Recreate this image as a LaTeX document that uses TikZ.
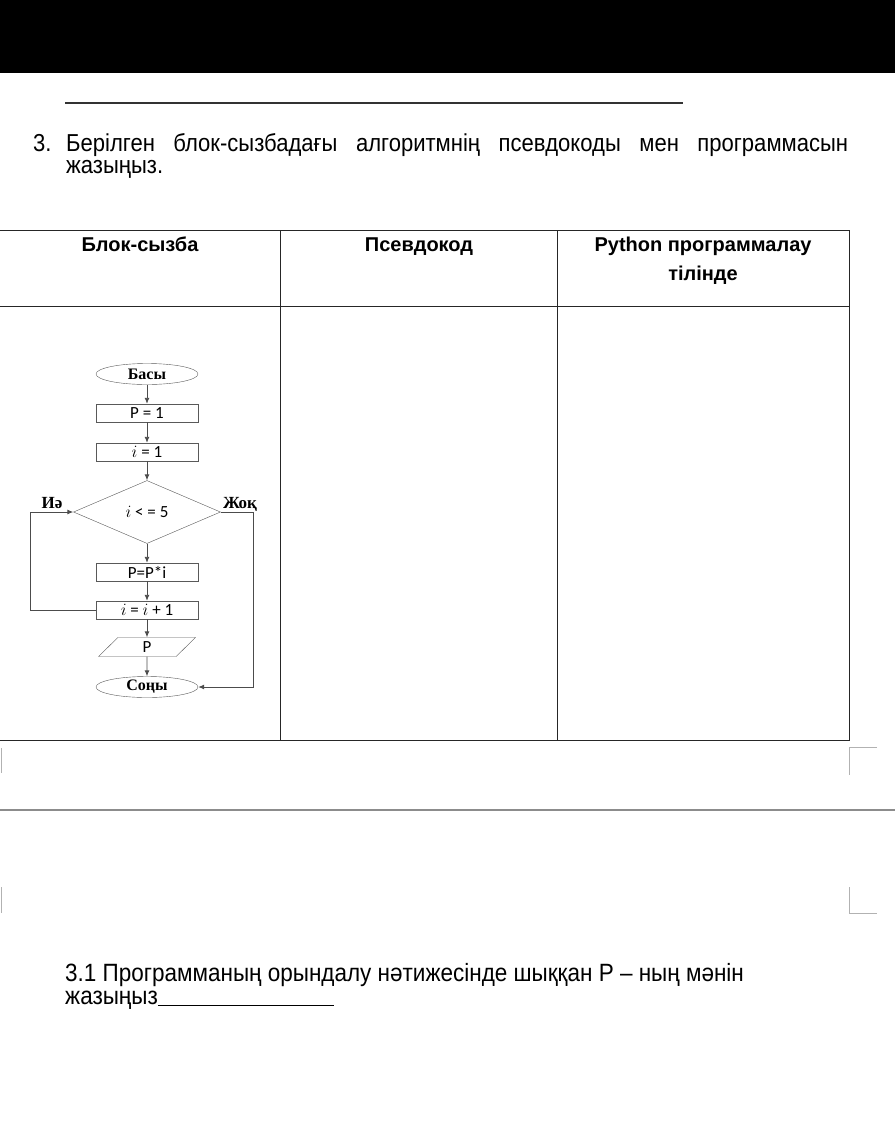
\documentclass[tikz,border=0pt]{standalone}
\usepackage{fontspec}
\setmainfont{Liberation Sans}
\newfontfamily\bodyfont[FakeStretch=0.9]{Liberation Sans}
\newfontfamily\serifkz{Liberation Serif}
\newfontfamily\blockfont{Carlito}
\usetikzlibrary{positioning,arrows.meta,shapes.geometric}

\begin{document}
\begin{tikzpicture}[x=1pt,y=-1pt,
  term/.style={ellipse,draw=black!65,fill=white,minimum width=102,minimum height=21,inner sep=0,
    font=\serifkz\bfseries\fontsize{16}{16}\selectfont},
  proc/.style={rectangle,draw=black!65,fill=white,minimum width=102,minimum height=18,inner sep=0,
    font=\blockfont\fontsize{17}{17}\selectfont},
  cond/.style={diamond,draw=black!65,fill=white,minimum width=147,minimum height=63,inner sep=0,
    font=\blockfont\fontsize{17}{17}\selectfont},
  io/.style={trapezium,trapezium left angle=75,trapezium right angle=105,trapezium stretches=true,
    draw=black!65,fill=white,minimum width=97,minimum height=19,inner sep=0,
    font=\blockfont\fontsize{17}{17}\selectfont},
  flow/.style={draw=black!70,line width=0.9pt,-{Latex[length=6pt,width=5pt]}},
  lbl/.style={anchor=base,font=\serifkz\bfseries\fontsize{17}{17}\selectfont},
  grid/.style={draw=black!85,line width=0.8pt},
  edgemark/.style={draw=black!30,line width=1pt},
  head/.style={anchor=base,font=\bfseries\fontsize{20}{20}\selectfont},
  txt/.style={anchor=base west,inner sep=0,font=\bodyfont\fontsize{24.5}{24.5}\selectfont}
]
\useasboundingbox (0,0) rectangle (895,1127);

% top of the page
\fill[black] (0,0) rectangle (895,73);
\draw[black!80,line width=1.3pt] (65,103) -- (683,103);

% task text
\node[txt] (num) at (33,151.5) {3.};
\node[txt] (line1) at (66,151.5) {\makebox[782pt][s]{Берілген блок-сызбадағы алгоритмнің псевдокоды мен программасын}};
\node[txt] (line2) at (66,173.5) {жазыңыз.};

% table
\draw[grid] (0,230) -- (849,230) -- (849,740) -- (0,740);
\draw[grid] (0,306) -- (849,306);
\draw[grid] (280,230) -- (280,740);
\draw[grid] (557,230) -- (557,740);
\node[head] (h1) at (140,251) {Блок-сызба};
\node[head] (h2) at (419,251) {Псевдокод};
\node[head] (h3) at (703,251) {Python программалау};
\node[head] (h3b) at (703,280) {тілінде};

% block scheme
\node[term] (start) at (147,374) {Басы};
\node[proc] (p1) at (147,413) {P = 1};
\node[proc] (i1) at (147,452) {$i$ = 1};
\node[cond] (test) at (147,512) {$i$ < = 5};
\node[proc] (mult) at (147,572) {P=P*i};
\node[proc] (inc) at (147,610) {$i$ = $i$ + 1};
\node[io] (out) at (147,647) {P};
\node[term] (stop) at (147,687) {Соңы};

\draw[flow] (start) -- (p1);
\draw[flow] (p1) -- (i1);
\draw[flow] (i1) -- (test);
\draw[flow] (test) -- (mult);
\draw[flow] (mult) -- (inc);
\draw[flow] (inc) -- (out);
\draw[flow] (out) -- (stop);

\coordinate (yesA) at (30,610);
\coordinate (yesB) at (30,512);
\draw[flow] (inc.west) -- (yesA) -- (yesB) -- (test.west);
\coordinate (noA) at (253,512);
\coordinate (noB) at (253,687);
\draw[flow] (test.east) -- (noA) -- (noB) -- (stop.east);

\node[lbl] (yes) at (52,508) {Иә};
\node[lbl] (no) at (240,508) {Жоқ};

% page edge marks
\draw[edgemark] (1,748) -- (1,773);
\draw[edgemark] (877,747) -- (849,747) -- (849,775);
\draw[black!45,line width=2.2pt] (0,810) -- (895,810);
\draw[edgemark] (1,887) -- (1,913);
\draw[edgemark] (849,887) -- (849,913) -- (877,913);

% question 3.1
\node[txt,font=\bodyfont\fontsize{25}{25}\selectfont] (q1) at (65,981) {3.1 Программаның орындалу нәтижесінде шыққан Р – ның мәнін};
\node[txt,font=\bodyfont\fontsize{25}{25}\selectfont] (q2) at (65,1004) {жазыңыз\rule[-1.5pt]{176pt}{1pt}};
\end{tikzpicture}
\end{document}
